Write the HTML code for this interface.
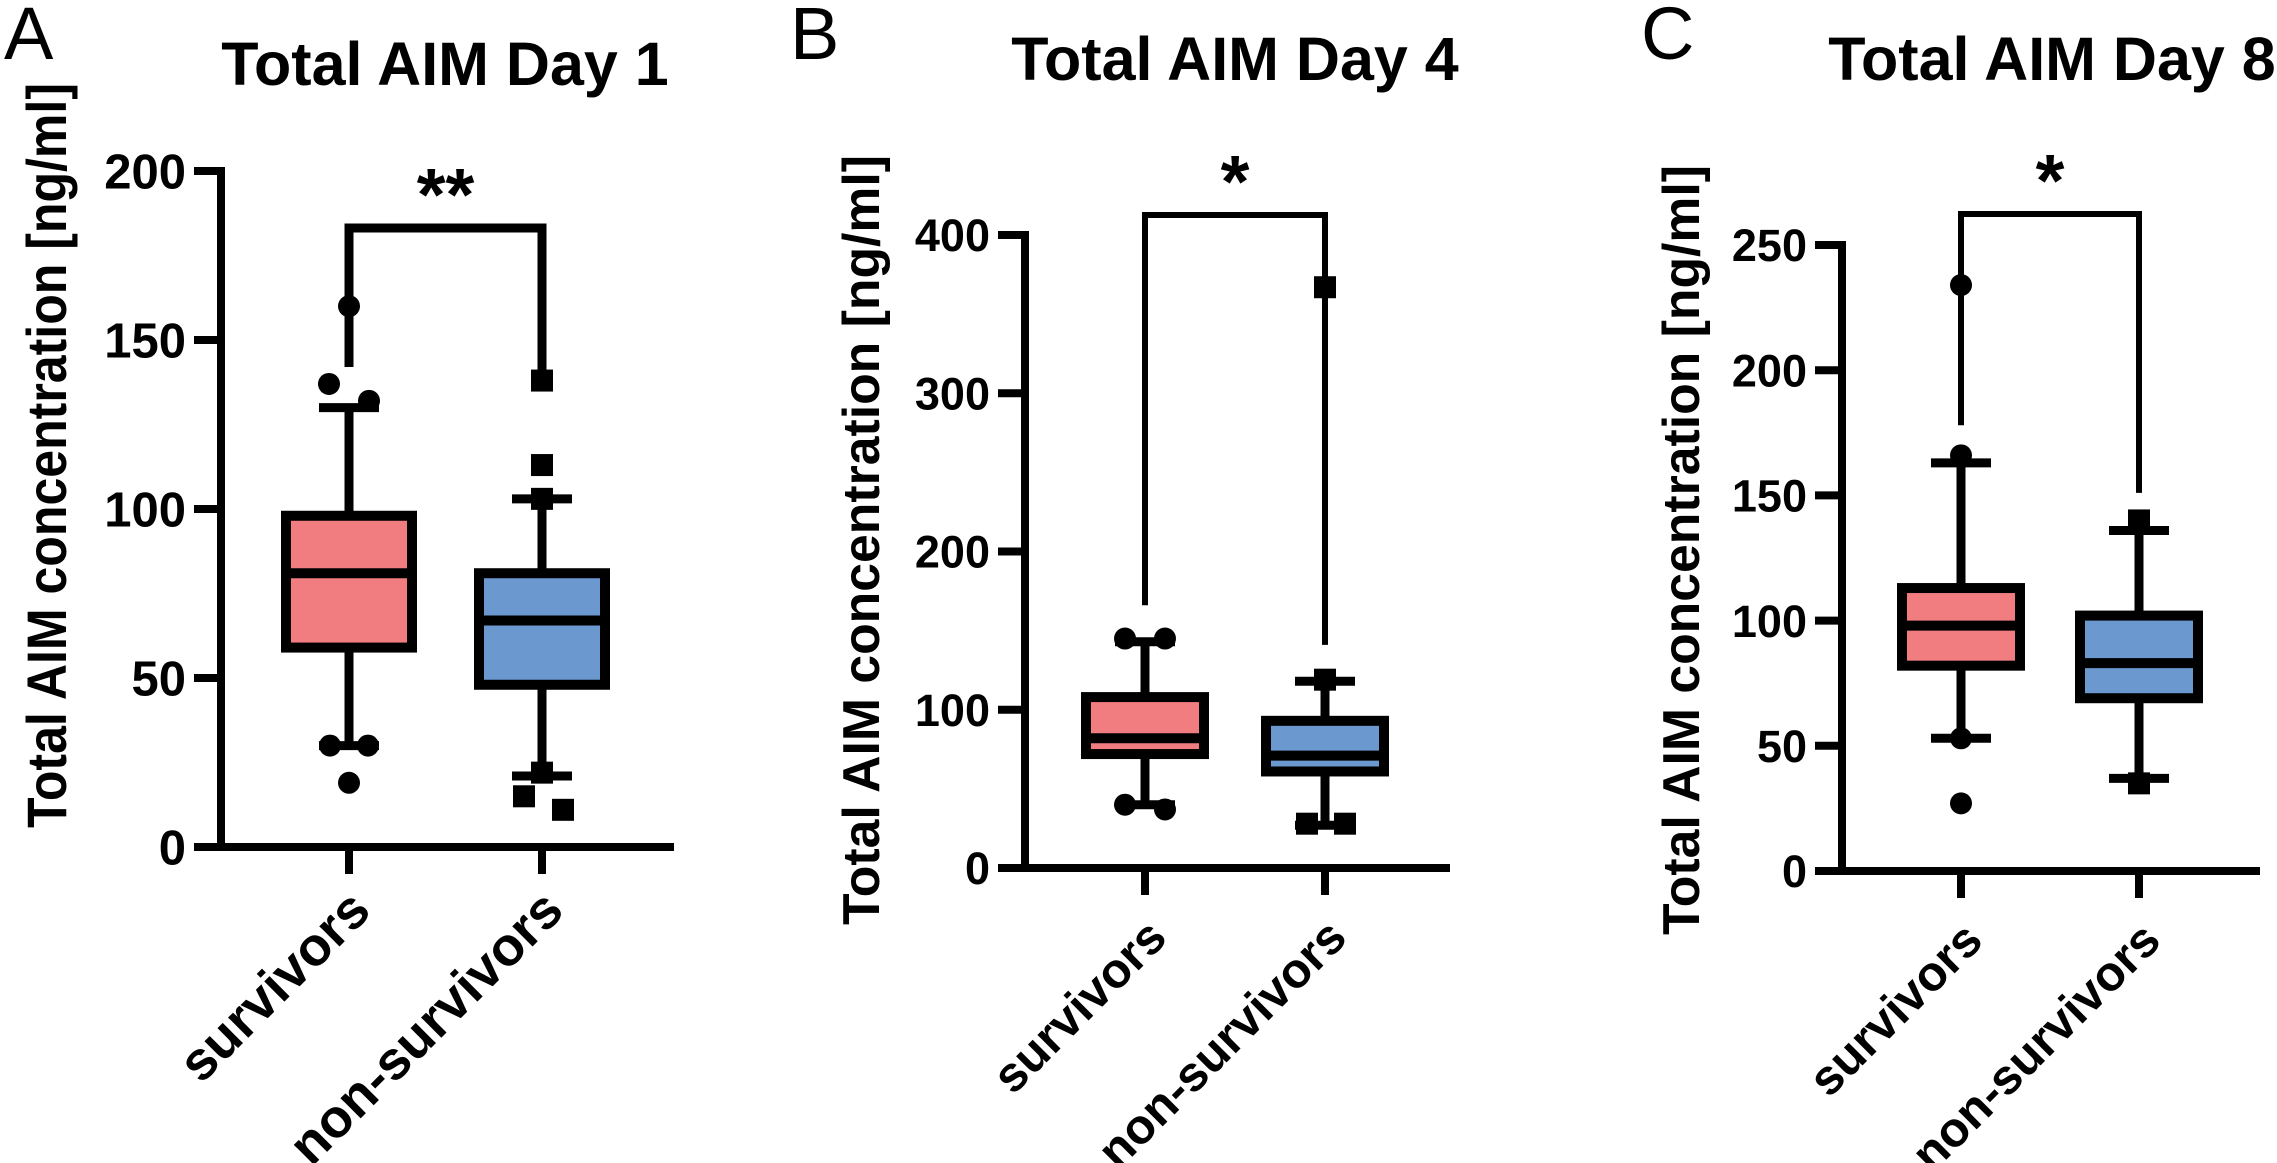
<!DOCTYPE html>
<html><head><meta charset="utf-8">
<style>
html,body{margin:0;padding:0;background:#fff;}
svg{display:block;font-family:"Liberation Sans",Arial,sans-serif;}
</style></head>
<body>
<svg id="fig" width="2277" height="1163" viewBox="0 0 2277 1163" xmlns="http://www.w3.org/2000/svg"></svg>
<script>
// ---- data ----
const categories = ["survivors", "non-survivors"];
const panelLetters = ["A", "B", "C"];
const panelTitles = ["Total AIM Day 1", "Total AIM Day 4", "Total AIM Day 8"];
const sigLabels = ["**", "*", "*"];
const yTicksA = [0, 50, 100, 150, 200];
const yTicksB = [0, 100, 200, 300, 400];
const yTicksC = [0, 50, 100, 150, 200, 250];
// box stats per category: [whiskerLow, q1, median, q3, whiskerHigh]
const statsA_surv = [30, 59, 81, 98, 130];
const statsA_non = [21, 48, 67, 81, 103];
const statsB_surv = [40, 72, 82, 108, 143];
const statsB_non = [27, 61, 71, 93, 118];
const statsC_surv = [53, 82, 98, 113, 163];
const statsC_non = [37, 69, 83, 102, 136];
// outlier values
const outA_surv = [160, 137, 132, 30, 30, 19];
const outA_non = [138, 113, 103, 22, 15, 11];
const outB_surv = [145, 145, 40, 37];
const outB_non = [367, 119, 28, 28];
const outC_surv = [234, 166, 53, 27];
const outC_non = [140, 35];
// horizontal jitter for outliers (px), kept separately from values
const jitA_surv = [0, -20, 20, -19, 19, 0];
const jitA_non = [0, 0, 0, 0, -18, 21];
const jitB_surv = [-20, 20, -20, 20];
const jitB_non = [0, 0, -18, 20];
const jitC_surv = [0, 0, 0, 0];
const jitC_non = [0, 0];
// bracket drop ends (value units)
const dropA = [142, 140];
const dropB = [166, 141];
const dropC = [178, 151];

const NS = "http://www.w3.org/2000/svg";
const svg = document.getElementById("fig");
function mk(tag, attrs, parent) {
  const e = document.createElementNS(NS, tag);
  for (const k in attrs) e.setAttribute(k, attrs[k]);
  (parent || svg).appendChild(e);
  return e;
}

const layouts = [
  {yAxisX: 221, y0: 847, yMax: 200, yTop: 171, xEnd: 674, cx: [349, 542], boxW: 126, bracketY: 228, bracketW: 9, titleX: 445, titleY: 85, letterX: 4, ytitleX: 66, ytitleY: 828, ytitleLen: 745, ytitleFont: 56, ticks: yTicksA, tickFont: 49, xlabFont: 54, xlabDy: 66,
   stats: [statsA_surv, statsA_non], outs: [outA_surv, outA_non], jit: [jitA_surv, jitA_non], drop: dropA},
  {yAxisX: 1025, y0: 868, yMax: 400, yTop: 235, xEnd: 1450, cx: [1145, 1325], boxW: 118, bracketW: 6, bracketY: 215, titleX: 1235, titleY: 80, letterX: 790, ytitleX: 879, ytitleY: 925, ytitleLen: 770, ytitleFont: 52, ticks: yTicksB, tickFont: 45, xlabFont: 49, xlabDy: 72,
   stats: [statsB_surv, statsB_non], outs: [outB_surv, outB_non], jit: [jitB_surv, jitB_non], drop: dropB},
  {yAxisX: 1842, y0: 871, yMax: 250, yTop: 245, xEnd: 2260, cx: [1961, 2139], boxW: 118, bracketW: 6, bracketY: 214, titleX: 2052, titleY: 80, letterX: 1641, ytitleX: 1699, ytitleY: 935, ytitleLen: 770, ytitleFont: 52, ticks: yTicksC, tickFont: 45, xlabFont: 49, xlabDy: 72,
   stats: [statsC_surv, statsC_non], outs: [outC_surv, outC_non], jit: [jitC_surv, jitC_non], drop: dropC}
];
const fills = ["#f27d80", "#6a98cf"];
const catKeys = ["survivors", "non-survivors"];

layouts.forEach((L, p) => {
  const key = ["a", "b", "c"][p];
  const g = mk("g", {});
  
  
  const y = v => L.y0 - (v / L.yMax) * (L.y0 - L.yTop);

  const letter = mk("text", {x: L.letterX, y: 59, "font-size": 74, fill: "#000"}, g);
  
  
  letter.textContent = panelLetters[p];

  const title = mk("text", {x: L.titleX, y: L.titleY, "font-size": 61, "font-weight": "bold", "text-anchor": "middle", fill: "#000"}, g);
  
  
  title.textContent = panelTitles[p];

  const yt = mk("text", {x: 0, y: 0, "font-size": L.ytitleFont, "font-weight": "bold", fill: "#000", textLength: L.ytitleLen, lengthAdjust: "spacingAndGlyphs",
    transform: `translate(${L.ytitleX},${L.ytitleY}) rotate(-90)`}, g);
  
  
  yt.textContent = "Total AIM concentration [ng/ml]";

  // axes
  const yAxis = mk("line", {x1: L.yAxisX, y1: L.yTop - 4, x2: L.yAxisX, y2: L.y0 + 4, stroke: "#000", "stroke-width": 8}, g);
  
  
  const xAxis = mk("line", {x1: L.yAxisX - 27, y1: L.y0, x2: L.xEnd, y2: L.y0, stroke: "#000", "stroke-width": 8}, g);
  
  

  L.ticks.forEach(t => {
    const tl = mk("line", {x1: L.yAxisX - 27, y1: y(t), x2: L.yAxisX, y2: y(t), stroke: "#000", "stroke-width": 8}, g);
    
    
    const tx = mk("text", {x: L.yAxisX - 35, y: y(t) + L.tickFont * 0.36, "font-size": L.tickFont, "font-weight": "bold", "text-anchor": "end", fill: "#000"}, g);
    
    
    tx.textContent = t;
  });

  categories.forEach((c, i) => {
    const cx = L.cx[i];
    const tk = mk("line", {x1: cx, y1: L.y0, x2: cx, y2: L.y0 + 27, stroke: "#000", "stroke-width": 8}, g);
    
    
    const lb = mk("text", {x: 0, y: 0, "font-size": L.xlabFont, "font-weight": "bold", "text-anchor": "end", fill: "#000",
      transform: `translate(${cx + 24},${L.y0 + L.xlabDy}) rotate(-45)`}, g);
    
    
    lb.textContent = c;

    const s = L.stats[i];
    const half = L.boxW / 2;
    const wh = mk("line", {x1: cx, y1: y(s[0]), x2: cx, y2: y(s[4]), stroke: "#000", "stroke-width": 9}, g);
    
    
    [s[0], s[4]].forEach(v => {
      const cap = mk("line", {x1: cx - 30, y1: y(v), x2: cx + 30, y2: y(v), stroke: "#000", "stroke-width": 9}, g);
      
      
    });
    const box = mk("rect", {x: cx - half, y: y(s[3]), width: L.boxW, height: y(s[1]) - y(s[3]), fill: fills[i], stroke: "#000", "stroke-width": 10}, g);
    
    
    const med = mk("line", {x1: cx - half, y1: y(s[2]), x2: cx + half, y2: y(s[2]), stroke: "#000", "stroke-width": 10}, g);
    
    

    L.outs[i].forEach((v, k) => {
      const ox = cx + L.jit[i][k];
      let m;
      if (i === 0) {
        m = mk("circle", {cx: ox, cy: y(v), r: 11, fill: "#000"}, g);
      } else {
        m = mk("rect", {x: ox - 11, y: y(v) - 11, width: 22, height: 22, fill: "#000"}, g);
      }
      
      
    });
  });

  // significance bracket
  const br = mk("path", {d: `M${L.cx[0]},${y(L.drop[0])} V${L.bracketY} H${L.cx[1]} V${y(L.drop[1])}`, fill: "none", stroke: "#000", "stroke-width": L.bracketW}, g);
  
  
  const st = mk("text", {x: (L.cx[0] + L.cx[1]) / 2, y: L.bracketY - 8, "font-size": 74, "font-weight": "bold", "text-anchor": "middle", fill: "#000"}, g);
  
  
  st.textContent = sigLabels[p];
});
</script>
</body></html>
